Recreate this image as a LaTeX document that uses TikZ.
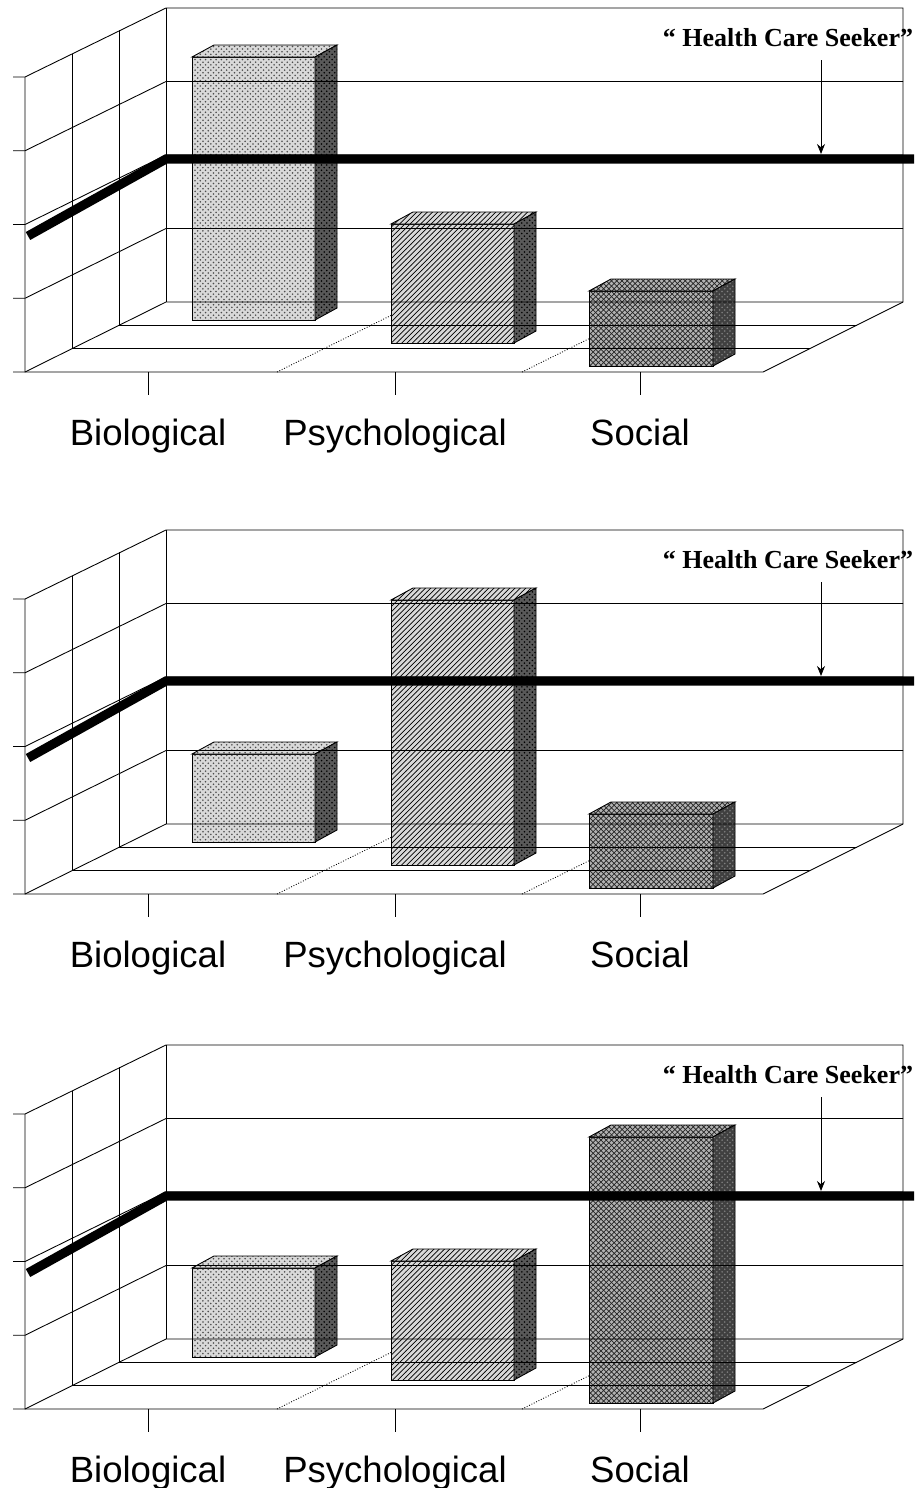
\documentclass[tikz,border=0pt]{standalone}
\usepackage{fontspec}
\setmainfont{Liberation Serif}
\setsansfont{Liberation Sans}
\usetikzlibrary{arrows.meta,patterns}

\begin{document}
\begin{tikzpicture}[
  x=0.02cm, y=-0.02cm,
  grid/.style={draw, line width=0.5pt},
  divider/.style={draw, densely dotted, line width=0.5pt},
  seeker/.style={draw, line width=5.2pt},
  seekarrow/.style={draw, line width=0.5pt, -{Stealth[length=2mm, width=1.6mm]}},
  catlabel/.style={font=\sffamily\fontsize{20.8}{25}\selectfont, inner sep=0pt, anchor=base},
  seeklabel/.style={font=\bfseries\fontsize{14.8}{18}\selectfont, inner sep=0pt, anchor=base},
  biofront/.style={draw, line width=0.5pt, preaction={fill=gray!30}, pattern=crosshatch dots, pattern color=black!70},
  bioside/.style={draw, line width=0.5pt, preaction={fill=black!65}, pattern=crosshatch dots, pattern color=black},
  psyfront/.style={draw, line width=0.5pt, preaction={fill=gray!30}, pattern=north east lines, pattern color=black},
  psyside/.style={draw, line width=0.5pt, preaction={fill=black!65}, pattern=crosshatch dots, pattern color=black},
  socfront/.style={draw, line width=0.5pt, preaction={fill=gray!60}, pattern=crosshatch, pattern color=black!85},
  socside/.style={draw, line width=0.5pt, preaction={fill=black!75}, pattern=crosshatch dots, pattern color=gray}
]
\useasboundingbox (0,0) rectangle (914,1488);

% one chart per panel: panel / shift / bar tops
\foreach \p/\dy/\ta/\tb/\tc in {1/0/57/224/291, 2/522/232/78/292, 3/1037/231/224/100} {
  \begin{scope}[shift={(0,\dy)}]
    % floor dividers, partly behind the bars
    \draw[divider] (277,372) -- (418,302);
    \draw[divider] (522,372) -- (663,302);
    % Biological
    \path[biofront] (192,\ta) rectangle (315,320);
    \path[biofront] (192,\ta) -- ++(22,-12) -- ++(123,0) -- ++(-22,12) -- cycle;
    \path[bioside] (315,\ta) -- ++(22,-12) -- (337,308) -- (315,320) -- cycle;
    % Psychological
    \path[psyfront] (391,\tb) rectangle (514,343);
    \path[psyfront] (391,\tb) -- ++(22,-12) -- ++(123,0) -- ++(-22,12) -- cycle;
    \path[psyside] (514,\tb) -- ++(22,-12) -- (536,331) -- (514,343) -- cycle;
    % Social
    \path[socfront] (589,\tc) rectangle (713,366);
    \path[socfront] (589,\tc) -- ++(22,-12) -- ++(124,0) -- ++(-22,12) -- cycle;
    \path[socside] (713,\tc) -- ++(22,-12) -- (735,354) -- (713,366) -- cycle;
    % walls and floor
    \draw[grid] (13,77) -- (25,77) -- (166,8) -- (903,8) -- (903,302);
    \foreach \k in {1,...,4}
      \draw[grid] (13,{77+73.75*\k}) -- (25,{77+73.75*\k}) -- (166,{8+73.5*\k}) -- (903,{8+73.5*\k});
    \draw[grid] (25,77) -- (25,372) -- (763,372) -- (903,302);
    \draw[grid] (166,8) -- (166,302);
    \foreach \j in {1,2}
      \draw[grid] ({25+47*\j},{77-23.3*\j}) -- ({25+47*\j},{372-23.3*\j}) -- ({763+47*\j},{372-23.3*\j});
    \foreach \cx in {148,395,640}
      \draw[grid] (\cx,372) -- (\cx,395);
    % threshold line
    \coordinate (sl\p) at (28,236);
    \coordinate (sc\p) at (166,159);
    \coordinate (sr\p) at (914,159);
    \draw[seeker] (sl\p) -- (sc\p) -- (sr\p);
    \node[seeklabel] (hcs\p) at (788,46) {“ Health Care Seeker”};
    \coordinate (at\p) at (821,60);
    \coordinate (ab\p) at (821,154);
    \draw[seekarrow] (at\p) -- (ab\p);
    % categories
    \node[catlabel] (bio\p) at (148,445) {Biological};
    \node[catlabel] (psy\p) at (395,445) {Psychological};
    \node[catlabel] (soc\p) at (640,445) {Social};
  \end{scope}
}
\end{tikzpicture}
\end{document}
